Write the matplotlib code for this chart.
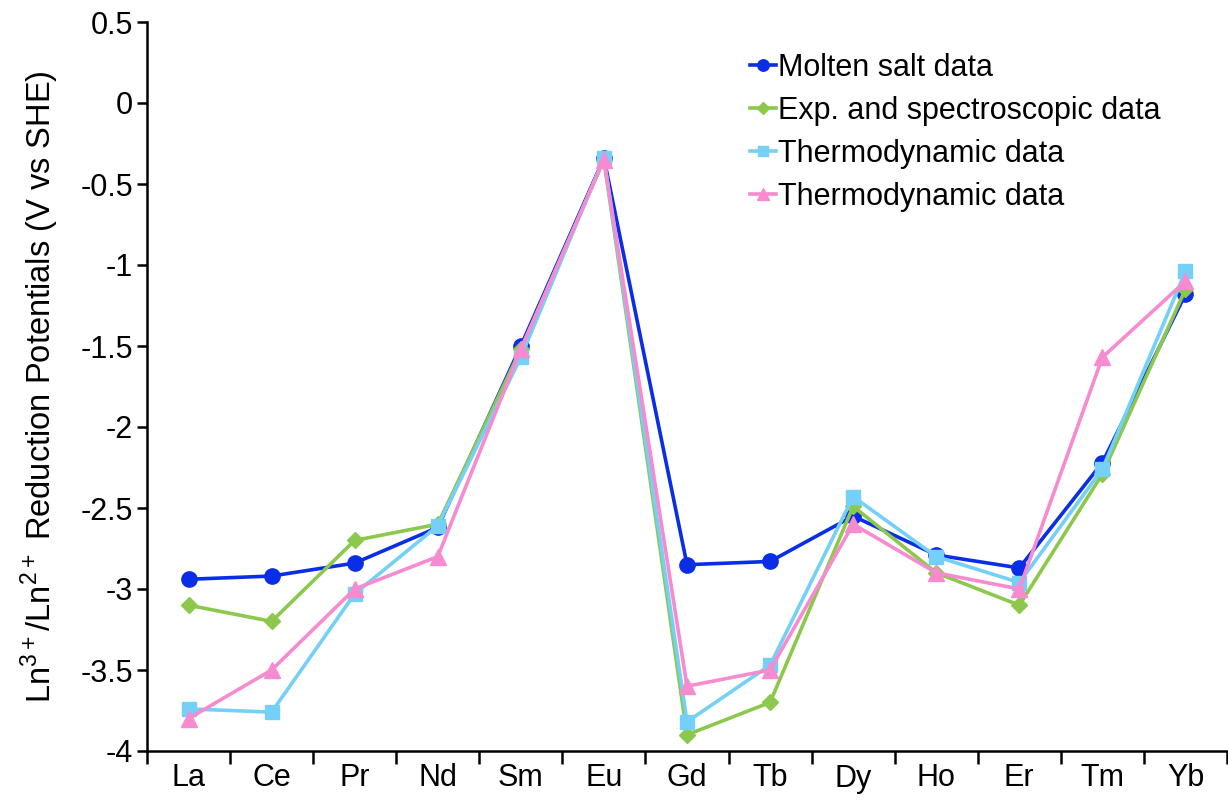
import numpy as np
import matplotlib
matplotlib.use("Agg")
import matplotlib.pyplot as plt

plt.rcParams['font.family'] = ['Liberation Sans', 'DejaVu Sans']
plt.rcParams['mathtext.fontset'] = 'custom'
plt.rcParams['mathtext.rm'] = 'Liberation Sans'

elements = ["La", "Ce", "Pr", "Nd", "Sm", "Eu", "Gd", "Tb", "Dy", "Ho", "Er", "Tm", "Yb"]

molten_salt = [-2.94, -2.92, -2.84, -2.62, -1.50, -0.34, -2.85, -2.83, -2.55, -2.79, -2.87, -2.22, -1.18]
exp_spectro = [-3.10, -3.20, -2.70, -2.60, -1.52, -0.35, -3.90, -3.70, -2.49, -2.90, -3.10, -2.29, -1.15]
thermo_1 = [-3.74, -3.76, -3.03, -2.61, -1.57, -0.34, -3.82, -3.47, -2.43, -2.80, -2.96, -2.26, -1.04]
thermo_2 = [-3.80, -3.50, -3.00, -2.80, -1.52, -0.35, -3.60, -3.50, -2.60, -2.90, -3.00, -1.57, -1.10]

labels = ["Molten salt data", "Exp. and spectroscopic data", "Thermodynamic data", "Thermodynamic data"]

x = np.arange(len(elements))

fig = plt.figure(figsize=(12.28, 8.08), dpi=100)
ax = fig.add_axes([147 / 1228, 1 - 751 / 808, (1227 - 147) / 1228, (751 - 22) / 808])

ax.plot(x, molten_salt, color='#0a2ee6', marker='o', markersize=11, lw=2.6, label=labels[0], zorder=3)
ax.plot(x, exp_spectro, color='#8cc84b', marker='D', markersize=8, lw=2.6, label=labels[1], zorder=4)
ax.plot(x, thermo_1, color='#74d0f7', marker='s', markersize=10.5, lw=2.6, label=labels[2], zorder=5)
ax.plot(x, thermo_2, color='#f78bd0', marker='^', markersize=11, lw=2.6, label=labels[3], zorder=6)

ax.set_xlim(-0.5, len(elements) - 0.5)
ax.set_ylim(-4, 0.5)
yt = np.arange(-4, 0.51, 0.5)
ax.set_yticks(yt)
ax.set_yticklabels(['%g' % v for v in yt])
ax.set_xticks(x)
ax.set_xticklabels(elements)
ax.set_xticks(np.arange(-0.5, len(elements), 1), minor=True)
ax.tick_params(axis='x', which='major', length=0, labelsize=22, pad=9)
ax.tick_params(axis='x', which='minor', length=9, width=1.8, direction='out')
ax.tick_params(axis='y', length=7, width=1.8, direction='out', labelsize=22, pad=3)

for s in ['top', 'right']:
    ax.spines[s].set_visible(False)
ax.spines['left'].set_linewidth(1.8)
ax.spines['bottom'].set_linewidth(1.8)

ax.set_ylabel(r"Ln$^{3+}$/Ln$^{2+}$ Reduction Potentials (V vs SHE)", fontsize=23.5, labelpad=14)

ax.legend(loc='upper right', bbox_to_anchor=(0.95, 0.974), frameon=False, fontsize=22,
          handlelength=0.85, handletextpad=0.08, labelspacing=0.42, borderaxespad=0,
          markerscale=0.75)

fig.savefig("out.png", dpi=100)
